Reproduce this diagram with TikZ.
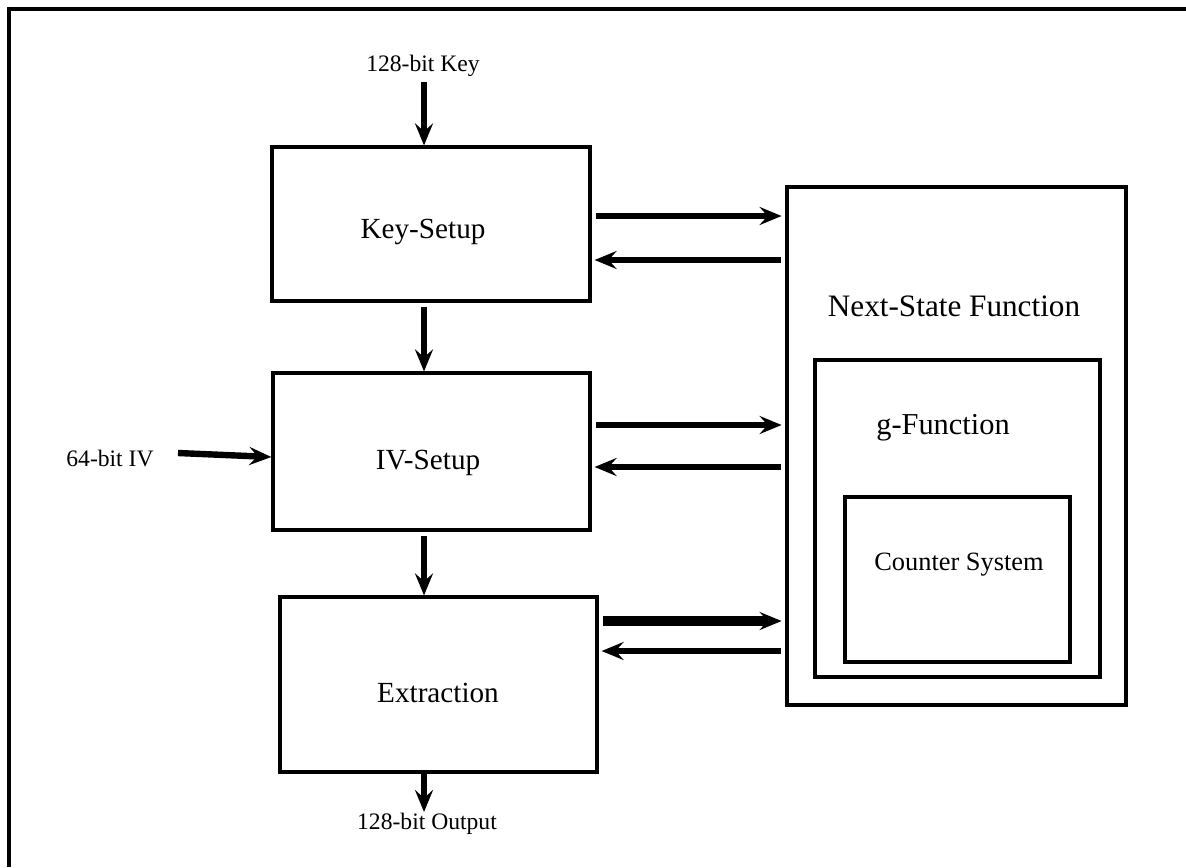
\documentclass[tikz,border=0pt]{standalone}
\usepackage{fontspec}
\setmainfont{Liberation Serif}
\usetikzlibrary{arrows.meta}
\begin{document}
\begin{tikzpicture}[x=0.5pt,y=-0.5pt,
  box/.style={draw,line width=1.6pt,inner sep=0pt},
  bigbox/.style={draw,line width=2.4pt,inner sep=0pt},
  flow/.style={line width=3.2pt,-{Stealth[length=11pt,width=9pt,inset=4pt]}},
  flowthin/.style={line width=3pt,-{Stealth[length=11pt,width=9pt,inset=4pt]},shorten <=2pt,shorten >=1.5pt},
  lbl/.style={font=\fontsize{11.8pt}{13pt}\selectfont,inner sep=0pt},
  blbl/.style={font=\fontsize{14.6pt}{16pt}\selectfont,inner sep=0pt}]
\useasboundingbox (0,0) rectangle (1186,867);
\draw[line width=1.6pt] (9,867) -- (9,9) -- (1186,9);
% boxes
\node[box,minimum width=318pt*0.5,minimum height=154pt*0.5] (key) at (431,224) {};
\node[box,minimum width=317pt*0.5,minimum height=157pt*0.5] (iv) at (431.5,451.5) {};
\node[box,minimum width=317pt*0.5,minimum height=175pt*0.5] (ext) at (438.5,684.5) {};
\node[bigbox,minimum width=339pt*0.5,minimum height=518pt*0.5] (ns) at (956.5,446) {};
\node[bigbox,minimum width=285pt*0.5,minimum height=317pt*0.5] (g) at (957.5,518.5) {};
\node[box,minimum width=225pt*0.5,minimum height=165pt*0.5] (cs) at (957.5,579.5) {};
% labels
\node[blbl] (keyt) at (423,232) {Key-Setup};
\node[blbl] (ivt) at (428,463) {IV-Setup};
\node[blbl] (extt) at (438,693) {Extraction};
\node[font=\fontsize{15.6pt}{17pt}\selectfont,inner sep=0pt] (nst) at (954,306) {Next-State Function};
\node[font=\fontsize{15.2pt}{17pt}\selectfont,inner sep=0pt] (gt) at (943,428) {g-Function};
\node[font=\fontsize{13.2pt}{15pt}\selectfont,inner sep=0pt] (cst) at (959,565) {Counter System};
\node[lbl] (kin) at (423,66) {128-bit Key};
\node[lbl] (ivin) at (110,458) {64-bit IV};
\node[lbl] (out) at (427,824) {128-bit Output};
% coordinates for connectors
\coordinate (k0) at (424,82);
\coordinate (ivs) at (178,453);
\coordinate (ive) at (0,457);
\coordinate (o1) at (424,812);
\coordinate (y1) at (0,216);
\coordinate (y2) at (0,260);
\coordinate (y3) at (0,425);
\coordinate (y4) at (0,467);
\coordinate (y5) at (0,621);
\coordinate (y6) at (0,651);
% vertical arrows
\draw[flow] (k0) -- (key.north -| k0);
\draw[flow,shorten <=2pt] (key.south -| k0) -- (iv.north -| k0);
\draw[flow,shorten <=2pt] (iv.south -| k0) -- (ext.north -| k0);
\draw[flow] (ext.south -| k0) -- (o1);
\draw[flow] (ivs) -- (iv.west |- ive);
% horizontal arrows
\draw[flowthin] (key.east |- y1) -- (ns.west |- y1);
\draw[flowthin] (ns.west |- y2) -- (key.east |- y2);
\draw[flowthin] (iv.east |- y3) -- (ns.west |- y3);
\draw[flowthin] (ns.west |- y4) -- (iv.east |- y4);
\draw[flowthin,line width=4.6pt] (ext.east |- y5) -- (ns.west |- y5);
\draw[flowthin] (ns.west |- y6) -- (ext.east |- y6);
\end{tikzpicture}
\end{document}
